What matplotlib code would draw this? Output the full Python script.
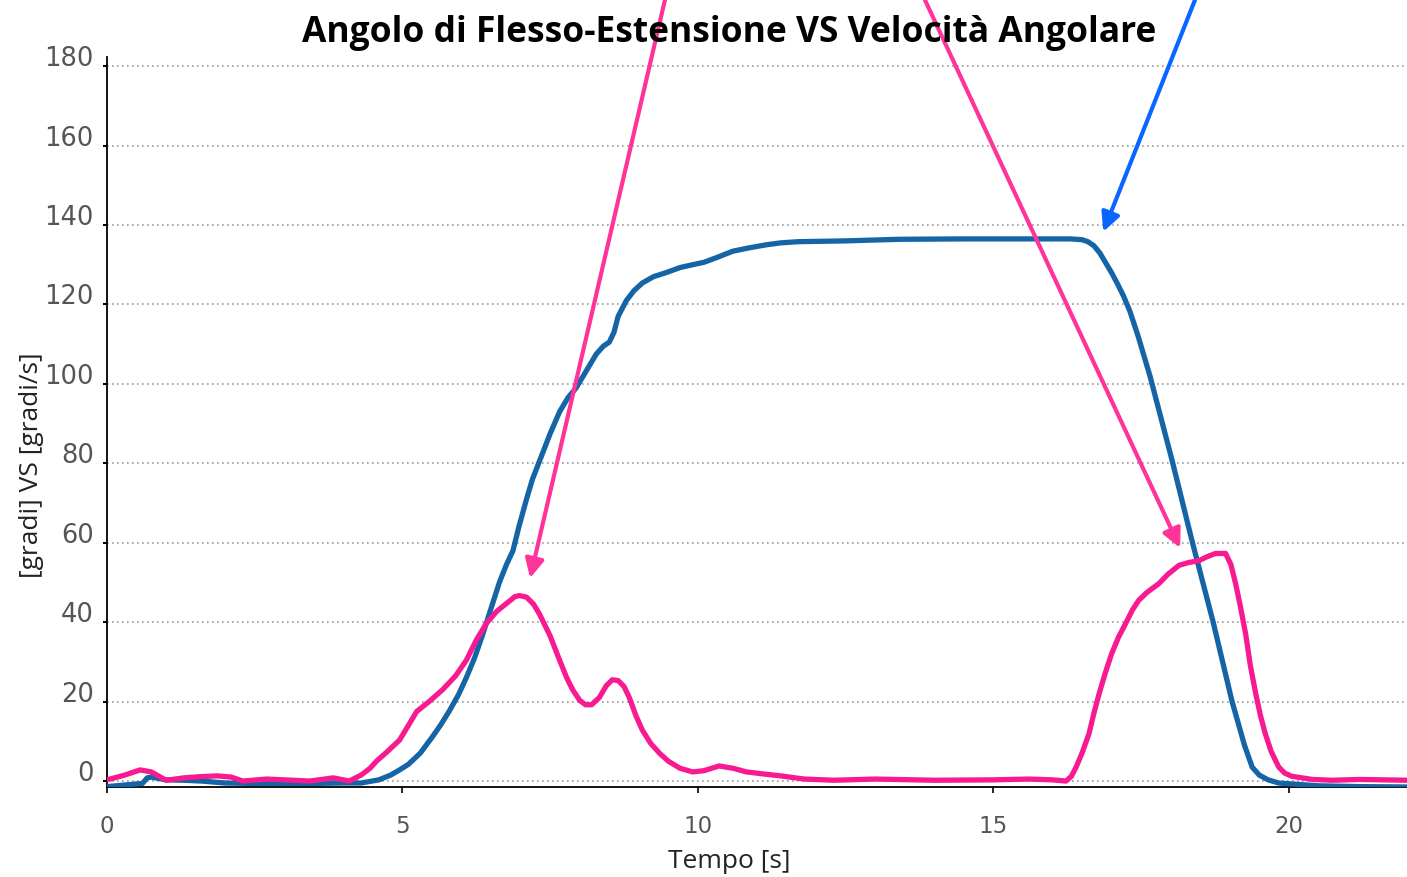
import matplotlib
matplotlib.use("Agg")
import matplotlib.pyplot as plt

# angle of flexion-extension [gradi]
angle_t = [0, 0.3, 0.6, 0.68, 0.75, 1.0, 1.3, 1.6, 2.0, 2.5, 3.0, 3.5, 4.0, 4.3, 4.6,
           4.8, 4.95, 5.1, 5.3, 5.5, 5.65, 5.8, 5.95, 6.08, 6.22, 6.36, 6.5, 6.64, 6.76,
           6.87, 6.97, 7.1, 7.2, 7.32, 7.5, 7.66, 7.8, 7.94, 8.1, 8.28, 8.4, 8.5, 8.58,
           8.65, 8.79, 8.92, 9.06, 9.25, 9.46, 9.7, 9.91, 10.1, 10.3, 10.59, 10.85,
           11.15, 11.4, 11.7, 12.5, 13.4, 14.5, 15.5, 16.3, 16.5, 16.6, 16.7, 16.8,
           16.9, 17.0, 17.1, 17.2, 17.31, 17.45, 17.65, 18.02, 18.37, 18.72, 19.04,
           19.25, 19.38, 19.5, 19.65, 19.83, 20.5, 21.2, 22]
angle_v = [-1.4, -1.0, -0.6, 0.8, 1.0, 0.3, 0.2, 0, -0.5, -0.6, -0.6, -0.6, -0.5, -0.5,
           0.3, 1.5, 2.8, 4.2, 7, 11, 14.2, 17.8, 21.8, 26, 31, 37, 43.5, 50, 54.5, 58,
           64, 71, 76, 80.6, 87.5, 93, 96.5, 99, 103, 107.5, 109.5, 110.5, 113, 117,
           121, 123.5, 125.4, 127, 128, 129.3, 130, 130.6, 131.7, 133.4, 134.2, 135,
           135.5, 135.8, 136, 136.4, 136.5, 136.5, 136.5, 136.3, 135.8, 134.8, 133,
           130.5, 128, 125.2, 122.2, 118.3, 112, 102, 81, 60, 40, 20, 9, 3.5, 1.5, 0.3,
           -0.5, -1.2, -1.4, -1.5]

# angular velocity [gradi/s]
vel_t = [0, 0.3, 0.56, 0.75, 1.0, 1.3, 1.57, 1.86, 2.1, 2.3, 2.7, 3.0, 3.43, 3.83, 4.1,
         4.3, 4.45, 4.56, 4.75, 4.95, 5.1, 5.24, 5.45, 5.68, 5.9, 6.08, 6.25, 6.42, 6.6,
         6.76, 6.9, 6.98, 7.1, 7.22, 7.32, 7.5, 7.66, 7.78, 7.88, 8.0, 8.1, 8.2, 8.33,
         8.45, 8.55, 8.65, 8.75, 8.84, 8.95, 9.06, 9.2, 9.35, 9.5, 9.7, 9.91, 10.1,
         10.36, 10.6, 10.82, 11.1, 11.4, 11.8, 12.3, 13, 14, 15, 15.6, 16.0, 16.23,
         16.32, 16.4, 16.5, 16.62, 16.7, 16.79, 16.9, 17.0, 17.12, 17.24, 17.35, 17.46,
         17.6, 17.8, 17.95, 18.14, 18.3, 18.48, 18.62, 18.76, 18.93, 19.02, 19.1,
         19.18, 19.27, 19.35, 19.44, 19.52, 19.6, 19.7, 19.83, 19.93, 20.05, 20.4,
         20.73, 21.2, 21.6, 22]
vel_v = [0.3, 1.5, 2.8, 2.3, 0.2, 0.8, 1.1, 1.3, 1.0, 0.0, 0.5, 0.3, 0.0, 0.8, 0.0,
         1.5, 3.2, 5, 7.5, 10.3, 14, 17.5, 20, 23, 26.5, 30.4, 35.5, 39.7, 42.8, 44.7,
         46.4, 46.7, 46.3, 44.5, 42, 36.5, 30.4, 26, 23, 20.3, 19.2, 19.2, 21, 24,
         25.5, 25.3, 23.8, 21, 16.5, 12.8, 9.5, 7, 5, 3.2, 2.3, 2.6, 3.8, 3.2, 2.3,
         1.8, 1.3, 0.5, 0.2, 0.5, 0.2, 0.3, 0.5, 0.3, 0, 1.2, 3.5, 7, 12, 17, 22, 27.5,
         32, 36.3, 39.7, 43, 45.5, 47.5, 49.7, 52, 54.3, 55, 55.5, 56.5, 57.3, 57.3,
         54.5, 49.7, 44, 37, 29, 22, 16.5, 12, 7.5, 3.5, 2, 1.2, 0.4, 0.2, 0.4, 0.3,
         0.2]

y_ticks = list(range(0, 181, 20))
x_ticks = [0, 5, 10, 15, 20]

# arrow heads (data) and tails (figure fraction, at the top edge)
pink_heads = [(7.16, 51.1), (18.16, 58.7)]
pink_tails = [(0.4726, 1.0), (0.6574, 1.0)]
blue_head = (16.86, 138.3)
blue_tail = (0.8493, 1.0)

BLUE = "#1565A6"
PINK = "#F81A91"
ARROW_PINK = "#FF3399"
ARROW_BLUE = "#0A66FF"
TICK_GREY = "#555555"

fig = plt.figure(figsize=(14.07, 8.77), dpi=100, facecolor="white")
ax = fig.add_axes([107 / 1407, 90 / 877, 1300 / 1407, 730.4 / 877])

ax.plot(angle_t, angle_v, color=BLUE, lw=3.8, solid_joinstyle="round",
        solid_capstyle="round", zorder=3)
ax.plot(vel_t, vel_v, color=PINK, lw=3.8, solid_joinstyle="round",
        solid_capstyle="round", zorder=4)

ax.set_xlim(0, 22)
ax.set_ylim(-1.5, 182.4)
ax.set_xticks(x_ticks)
ax.set_yticks(y_ticks)

ax.yaxis.grid(True, linestyle=(0, (1, 2)), color="#9a9a9a", lw=1.2)
ax.set_axisbelow(True)

for side in ("top", "right"):
    ax.spines[side].set_visible(False)
for side in ("left", "bottom"):
    ax.spines[side].set_color("black")
    ax.spines[side].set_linewidth(1.3)

ax.tick_params(axis="y", length=3, width=1.5, pad=6.5, labelsize=18.5,
               labelcolor=TICK_GREY)
ax.tick_params(axis="x", length=4, width=1.2, pad=16, labelsize=16.5,
               labelcolor=TICK_GREY)
for lab in ax.get_yticklabels():
    lab.set_verticalalignment("baseline")

# annotation arrows coming in from above the chart
for head, tail in zip(pink_heads, pink_tails):
    ax.annotate("", xy=head, xycoords="data", xytext=tail, textcoords="figure fraction",
                arrowprops=dict(arrowstyle="-|>", color=ARROW_PINK, lw=3,
                                mutation_scale=28, shrinkA=0, shrinkB=0),
                annotation_clip=False, zorder=6)
ax.annotate("", xy=blue_head, xycoords="data", xytext=blue_tail,
            textcoords="figure fraction",
            arrowprops=dict(arrowstyle="-|>", color=ARROW_BLUE, lw=3,
                            mutation_scale=28, shrinkA=0, shrinkB=0),
            annotation_clip=False, zorder=6)

fig.text(729 / 1407, 1 - 33 / 877, "Angolo di Flesso-Estensione VS Velocità Angolare",
         ha="center", va="center", fontsize=25.5, fontweight="bold", family="Open Sans",
         color="black")
fig.text(729 / 1407, 1 - 862 / 877, "Tempo [s]", ha="center", va="center",
         fontsize=19, family="Open Sans", color="#222222")
fig.text(31 / 1407, 1 - 465 / 877, "[gradi] VS [gradi/s]", ha="center", va="center",
         rotation=90, fontsize=19, family="Open Sans", color="#222222")

fig.savefig("out.png", dpi=100, facecolor="white")
